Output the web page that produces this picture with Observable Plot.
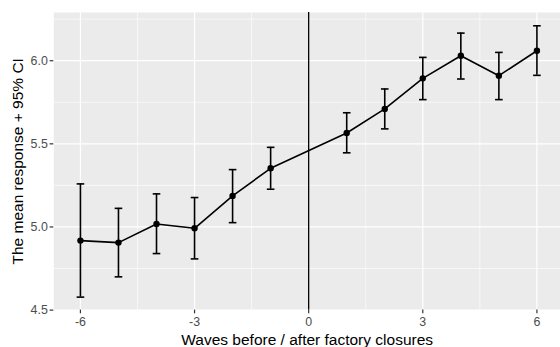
<!DOCTYPE html>
<html>
<head>
<meta charset="utf-8">
<script src="https://cdn.jsdelivr.net/npm/d3@7"></script>
<script src="https://cdn.jsdelivr.net/npm/@observablehq/plot@0.6"></script>
<style>
  html, body { margin: 0; padding: 0; background: #ffffff; }
  #chart svg { display: block; }
</style>
</head>
<body>
<div id="chart"></div>
<script>
// Data
const waves = [-6, -5, -4, -3, -2, -1, 1, 2, 3, 4, 5, 6];
const means = [4.918, 4.906, 5.018, 4.992, 5.187, 5.353, 5.565, 5.710, 5.894, 6.030, 5.910, 6.060];
const lower = [4.578, 4.700, 4.840, 4.808, 5.026, 5.227, 5.446, 5.590, 5.766, 5.890, 5.766, 5.912];
const upper = [5.259, 5.112, 5.199, 5.177, 5.345, 5.479, 5.687, 5.830, 6.020, 6.166, 6.050, 6.210];
const xTicks = [-6, -3, 0, 3, 6];
const xMinor = [-4.5, -1.5, 1.5, 4.5];
const yTicks = [4.5, 5.0, 5.5, 6.0];
const yMinor = [4.75, 5.25, 5.75, 6.25];
const capHalf = 0.1; // errorbar width 0.2 (data units)

const data = waves.map((w, i) => ({wave: w, mean: means[i], lo: lower[i], hi: upper[i]}));

const font = "'Liberation Sans', Arial, Helvetica, sans-serif";

const chart = Plot.plot({
  width: 560,
  height: 347,
  marginLeft: 53.3,
  marginRight: 0,
  marginTop: 12,
  marginBottom: 37.4,
  style: {fontFamily: font, background: "#ffffff", overflow: "visible"},
  x: {domain: [-6.70, 6.62]},
  y: {domain: [4.5, 6.29]},
  marks: [
    Plot.frame({fill: "#ebebeb", stroke: null}),
    Plot.gridX(xMinor, {stroke: "#ffffff", strokeOpacity: 1, strokeWidth: 0.6}),
    Plot.gridY(yMinor, {stroke: "#ffffff", strokeOpacity: 1, strokeWidth: 0.6}),
    Plot.gridX(xTicks, {stroke: "#ffffff", strokeOpacity: 1, strokeWidth: 1.2}),
    Plot.gridY(yTicks, {stroke: "#ffffff", strokeOpacity: 1, strokeWidth: 1.2}),
    Plot.axisX({ticks: xTicks, tickSize: 3.7, tickPadding: 3, stroke: "#333333", strokeWidth: 1.2, fill: "#4d4d4d", fontSize: 12.4, label: null, tickFormat: d => d < 0 ? "-" + Math.abs(d) : String(d)}),
    Plot.axisY({ticks: yTicks, tickSize: 3.7, tickPadding: 2.3, stroke: "#333333", strokeWidth: 1.2, fill: "#4d4d4d", fontSize: 12.4, label: null, tickFormat: d3.format(".1f")}),
    Plot.ruleX([0], {stroke: "#000000", strokeWidth: 1.3}),
    Plot.ruleX(data, {x: "wave", y1: "lo", y2: "hi", stroke: "#000000", strokeWidth: 1.6}),
    Plot.link(data, {x1: d => d.wave - capHalf, x2: d => d.wave + capHalf, y1: "lo", y2: "lo", stroke: "#000000", strokeWidth: 1.6}),
    Plot.link(data, {x1: d => d.wave - capHalf, x2: d => d.wave + capHalf, y1: "hi", y2: "hi", stroke: "#000000", strokeWidth: 1.6}),
    Plot.line(data, {x: "wave", y: "mean", stroke: "#000000", strokeWidth: 1.6}),
    Plot.dot(data, {x: "wave", y: "mean", r: 3.2, fill: "#000000", stroke: null}),
    Plot.text(["Waves before / after factory closures"], {frameAnchor: "bottom", dy: 30, lineAnchor: "middle", fontSize: 15.5, fill: "#000000", fontFamily: font}),
    Plot.text(["The mean response + 95% CI"], {frameAnchor: "left", dx: -36, rotate: -90, lineAnchor: "middle", textAnchor: "middle", fontSize: 15.5, fill: "#000000", fontFamily: font})
  ]
});
document.getElementById("chart").appendChild(chart);
</script>
</body>
</html>
